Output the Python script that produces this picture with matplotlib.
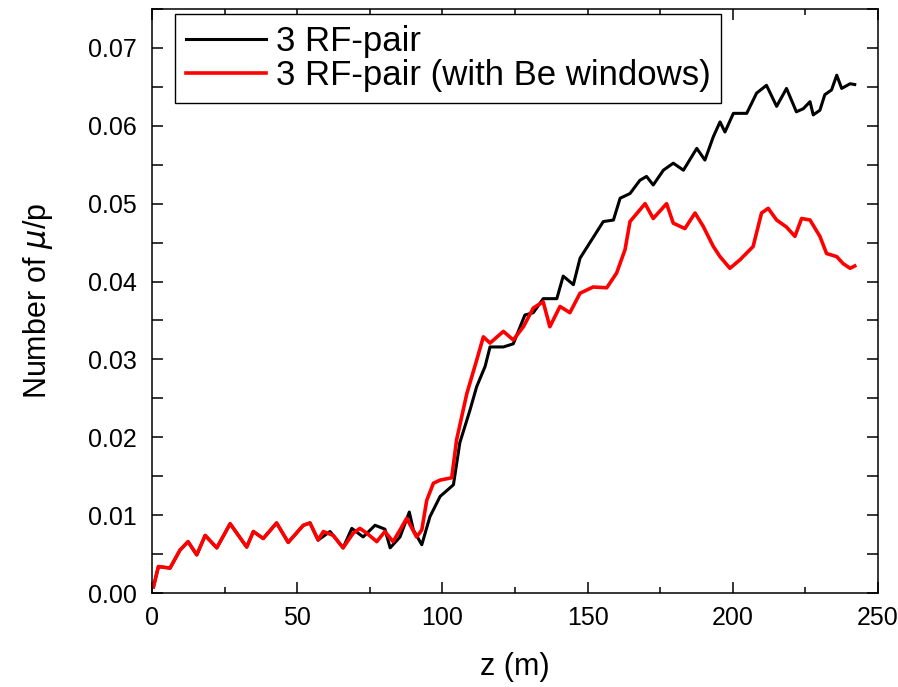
import numpy as np
import matplotlib
matplotlib.use("Agg")
import matplotlib.pyplot as plt
from matplotlib.ticker import MultipleLocator

plt.rcParams['font.family'] = ['Liberation Sans', 'DejaVu Sans']

# values
z_black = [0.5, 2.2, 6.2, 9.6, 12.4, 15.4, 18.3, 22.3, 26.9, 32.6, 34.9, 38.3, 42.9, 46.9,
           52.1, 54.4, 57.2, 61.3, 65.8, 68.8, 72.7, 76.8, 80.2, 82.0, 85.4, 88.6, 90.0,
           92.9, 95.7, 99.2, 103.8, 106.0, 109.5, 111.8, 114.7, 116.4, 121.0, 124.4,
           128.4, 131.3, 134.7, 139.4, 141.6, 145.1, 147.4, 150.8, 155.4, 158.9, 161.2,
           164.6, 168.0, 170.3, 172.6, 176.1, 179.5, 183.0, 187.6, 190.4, 193.3, 195.6,
           197.3, 200.2, 204.8, 208.2, 211.6, 215.1, 218.5, 221.9, 224.3, 226.6, 227.7,
           230.0, 231.7, 234.0, 235.8, 237.5, 240.4, 242.0]
y_black = [0.0008, 0.0034, 0.0032, 0.0055, 0.0066, 0.0049, 0.0074, 0.0058, 0.0089, 0.0059,
           0.0079, 0.0070, 0.0090, 0.0065, 0.0087, 0.0090, 0.0068, 0.0079, 0.0058, 0.0083,
           0.0072, 0.0087, 0.0082, 0.0058, 0.0072, 0.0104, 0.0081, 0.0062, 0.0098, 0.0124,
           0.0139, 0.0193, 0.0235, 0.0265, 0.0291, 0.0316, 0.0316, 0.0320, 0.0357, 0.0360,
           0.0378, 0.0378, 0.0407, 0.0396, 0.0430, 0.0450, 0.0477, 0.0479, 0.0507, 0.0513,
           0.0530, 0.0535, 0.0524, 0.0543, 0.0552, 0.0543, 0.0571, 0.0556, 0.0586, 0.0605,
           0.0592, 0.0616, 0.0616, 0.0642, 0.0652, 0.0625, 0.0648, 0.0618, 0.0622, 0.0631,
           0.0614, 0.0620, 0.0640, 0.0646, 0.0665, 0.0648, 0.0654, 0.0653]

z_red = [0.5, 2.2, 6.2, 9.6, 12.4, 15.4, 18.3, 22.3, 26.9, 32.6, 34.9, 38.3, 42.9, 46.9,
         52.1, 54.4, 57.2, 59.0, 62.4, 65.8, 69.3, 71.6, 73.9, 77.4, 80.2, 83.0, 85.4,
         87.7, 91.1, 92.9, 94.6, 96.9, 99.2, 103.2, 104.9, 108.4, 111.8, 114.1, 116.4,
         121.0, 124.4, 127.9, 131.3, 134.7, 137.0, 140.5, 143.9, 147.4, 151.9, 156.6,
         160.0, 162.9, 164.6, 169.8, 172.6, 177.2, 179.5, 183.5, 187.0, 189.8, 193.3,
         195.6, 199.0, 202.5, 207.0, 209.9, 212.2, 215.1, 218.5, 221.4, 223.7, 226.6,
         230.0, 232.3, 235.8, 238.0, 240.4, 242.0]
y_red = [0.0008, 0.0034, 0.0032, 0.0055, 0.0066, 0.0049, 0.0074, 0.0058, 0.0089, 0.0059,
         0.0079, 0.0070, 0.0090, 0.0065, 0.0087, 0.0090, 0.0068, 0.0079, 0.0074, 0.0058,
         0.0077, 0.0083, 0.0077, 0.0066, 0.0079, 0.0066, 0.0081, 0.0096, 0.0072, 0.0081,
         0.0119, 0.0141, 0.0145, 0.0148, 0.0197, 0.0256, 0.0299, 0.0329, 0.0321, 0.0336,
         0.0325, 0.0342, 0.0366, 0.0374, 0.0342, 0.0368, 0.0360, 0.0385, 0.0393, 0.0392,
         0.0411, 0.0441, 0.0477, 0.0500, 0.0481, 0.0500, 0.0475, 0.0468, 0.0488, 0.0471,
         0.0445, 0.0432, 0.0417, 0.0428, 0.0445, 0.0488, 0.0494, 0.0479, 0.0470, 0.0458,
         0.0481, 0.0479, 0.0458, 0.0436, 0.0432, 0.0423, 0.0417, 0.0420]

fig = plt.figure(figsize=(8.98, 6.87), dpi=100)
ax = fig.add_axes([0.1693, 0.1368, 0.8084, 0.8501])

ax.plot(z_black, y_black, color='black', lw=2.2, label='3 RF-pair')
ax.plot(z_red, y_red, color='red', lw=2.6, label='3 RF-pair (with Be windows)')

ax.set_xlim(0, 250)
ax.set_ylim(0, 0.075)
ax.xaxis.set_major_locator(MultipleLocator(50))
ax.xaxis.set_minor_locator(MultipleLocator(25))
ax.yaxis.set_major_locator(MultipleLocator(0.01))
ax.yaxis.set_minor_locator(MultipleLocator(0.005))
ax.yaxis.set_major_formatter(plt.FormatStrFormatter('%.2f'))

ax.tick_params(which='both', direction='in', top=True, right=True, width=1.1, labelsize=18)
ax.tick_params(axis='x', which='major', length=8, pad=9)
ax.tick_params(axis='x', which='minor', length=4)
ax.tick_params(axis='y', which='both', length=8, pad=11)
for s in ax.spines.values():
    s.set_linewidth(1.1)

ax.set_xlabel('z (m)', fontsize=22, labelpad=16)
ax.set_ylabel(r'Number of $\mu$/p', fontsize=22, labelpad=24)

leg = ax.legend(loc='upper left', bbox_to_anchor=(0.032, 0.991), borderaxespad=0,
                fontsize=25, frameon=True, fancybox=False, edgecolor='black', framealpha=1,
                handlelength=2.3, handletextpad=0.3, borderpad=0.3, labelspacing=0.05)
leg.get_frame().set_linewidth(1.0)

fig.savefig('out.png', dpi=100)
